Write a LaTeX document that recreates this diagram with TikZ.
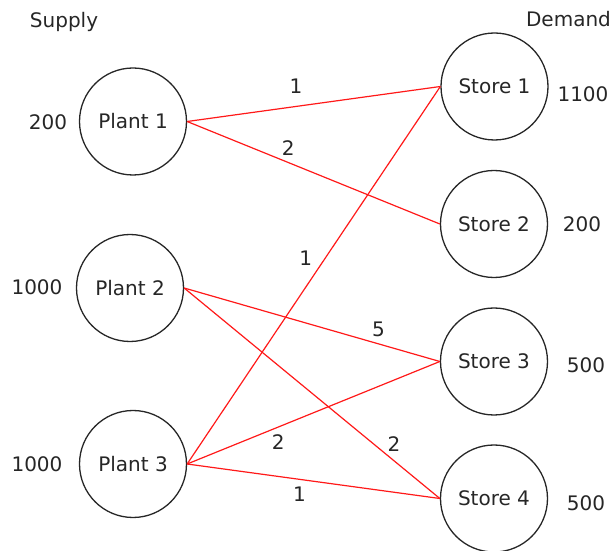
\documentclass[tikz,border=0pt]{standalone}
\usepackage{fontspec}
\setmainfont{DejaVu Sans}
\usetikzlibrary{positioning}

\begin{document}
\begin{tikzpicture}[x=0.5pt,y=-0.5pt,font=\fontsize{10}{12}\selectfont,
      every node/.style={inner sep=3.3pt,text=black!85},
      site/.style={draw=black!85,circle,line width=0.65pt,minimum size=53.5pt,inner sep=0pt},
      route/.style={draw=red!90!white,line width=0.6pt}]
      \useasboundingbox (0,0) rectangle (612,551);
      \node (supply) at (64,22) {Supply};
      \node (demand) at (568.5,19) {Demand};
      \node[site] (plant1) at (133,121.5) {Plant 1};
      \node[site] (plant2) at (130,288)   {Plant 2};
      \node[site] (plant3) at (133,464)   {Plant 3};
      \node[site] (store1) at (494.5,86.5) {Store 1};
      \node[site] (store2) at (494,224)    {Store 2};
      \node[site] (store3) at (494,361.5)  {Store 3};
      \node[site] (store4) at (494,498.5)  {Store 4};
      \node (s1) at (48,122) {200};
      \node (s2) at (37,287) {1000};
      \node (s3) at (37,464) {1000};
      \node (d1) at (583,94)  {1100};
      \node (d2) at (582,224) {200};
      \node (d3) at (586,365) {500};
      \node (d4) at (586,503) {500};
      \path[route]
      (plant1.east) edge node [pos=0.43,above,yshift=3pt] {1} (store1.west)
      (plant1.east) edge node [pos=0.4,above] {2} (store2.west)
      (plant2.east) edge node [pos=0.76,above] {5} (store3.west)
      (plant2.east) edge node [pos=0.74,right,xshift=3.5pt] {2} (store4.west)
      (plant3.east) edge node [pos=0.546,left,xshift=-3pt] {1} (store1.west)
      (plant3.east) edge node [pos=0.36,below] {2} (store3.west)
      (plant3.east) edge node [pos=0.445,below] {1} (store4.west);
    \end{tikzpicture}
\end{document}
